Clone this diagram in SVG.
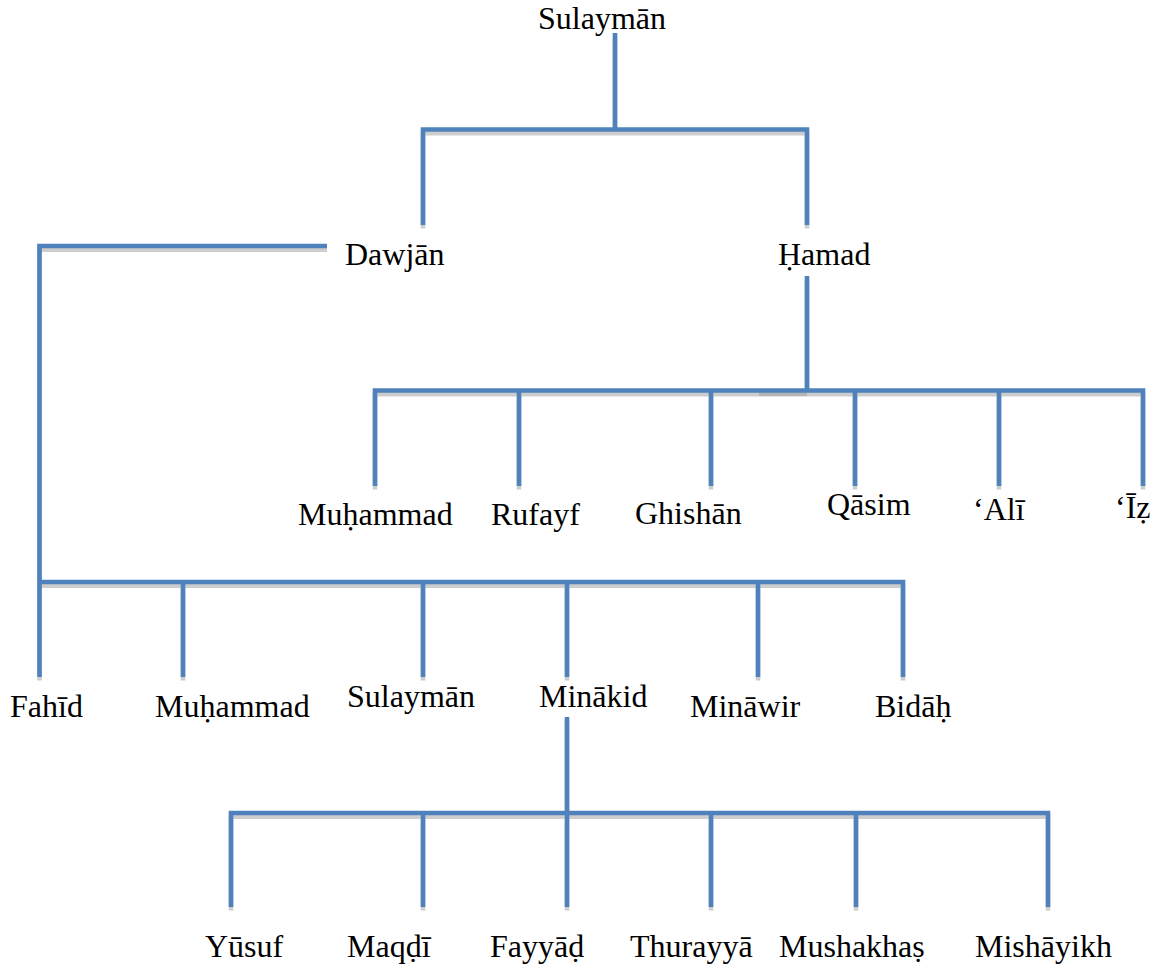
<svg xmlns="http://www.w3.org/2000/svg" xmlns:xlink="http://www.w3.org/1999/xlink" width="1157" height="967" viewBox="0 0 1157 967">
<style>
  .lbl { font-family: "Liberation Serif", "Times New Roman", serif; font-size: 32px; fill: #000; }
  .ln { fill: none; stroke: #4F81BD; stroke-width: 4.6; stroke-linejoin: miter; stroke-linecap: butt; }
  .sh { fill: none; stroke: #CDCDCD; stroke-width: 4.6; stroke-linejoin: miter; stroke-linecap: butt; }
</style>
<defs>
  <path id="c1" d="M615,33 V129.5 M423,225 V129.5 H807 V225"/>
  <path id="c2" d="M327,246 H39.5 V582 M39.5,582 H903 V677 M39.5,582 V677 M183,582 V677 M423,582 V677 M567,582 V677 M758,582 V677"/>
  <path id="c3" d="M807,276 V390.5 M375,486 V390.5 H1143 V486 M519,390.5 V486 M711,390.5 V486 M855,390.5 V486 M999,390.5 V486"/>
  <path id="c4" d="M567,717 V813 M231,907 V813 H1048 V907 M423,813 V907 M567,813 V907 M711,813 V907 M856,813 V907"/>
</defs>
<rect width="1157" height="967" fill="#fff"/>
<g id="connectors">
  <g transform="translate(0,3.6)">
    <use xlink:href="#c1" class="sh"/>
    <use xlink:href="#c2" class="sh"/>
    <use xlink:href="#c3" class="sh"/>
    <use xlink:href="#c4" class="sh"/>
  </g>
  <rect x="759" y="391" width="48" height="5" fill="#B4B4B4"/>
  <use xlink:href="#c1" class="ln"/>
  <use xlink:href="#c2" class="ln"/>
  <use xlink:href="#c3" class="ln"/>
  <use xlink:href="#c4" class="ln"/>
</g>
<g id="n-sulayman-root"><text class="lbl" x="538" y="29">Sulaymān</text></g>
<g id="n-dawjan"><text class="lbl" x="345" y="265">Dawjān</text></g>
<g id="n-hamad"><text class="lbl" x="778" y="265">Ḥamad</text></g>
<g id="n-muhammad-h"><text class="lbl" x="298" y="525">Muḥammad</text></g>
<g id="n-rufayf"><text class="lbl" x="491" y="525">Rufayf</text></g>
<g id="n-ghishan"><text class="lbl" x="635" y="524">Ghishān</text></g>
<g id="n-qasim"><text class="lbl" x="827" y="515">Qāsim</text></g>
<g id="n-ali"><text class="lbl" x="973" y="520">‘Alī</text></g>
<g id="n-iz"><text class="lbl" x="1115" y="518">‘Īẓ</text></g>
<g id="n-fahid"><text class="lbl" x="10" y="717">Fahīd</text></g>
<g id="n-muhammad-d"><text class="lbl" x="155" y="717">Muḥammad</text></g>
<g id="n-sulayman-d"><text class="lbl" x="347" y="707">Sulaymān</text></g>
<g id="n-minakid"><text class="lbl" x="539" y="707">Minākid</text></g>
<g id="n-minawir"><text class="lbl" x="690" y="717">Mināwir</text></g>
<g id="n-bidah"><text class="lbl" x="875" y="717">Bidāḥ</text></g>
<g id="n-yusuf"><text class="lbl" x="205" y="957">Yūsuf</text></g>
<g id="n-maqdi"><text class="lbl" x="347" y="957">Maqḍī</text></g>
<g id="n-fayyad"><text class="lbl" x="490" y="957">Fayyāḍ</text></g>
<g id="n-thurayya"><text class="lbl" x="630" y="957">Thurayyā</text></g>
<g id="n-mushakhas"><text class="lbl" x="779" y="957">Mushakhaṣ</text></g>
<g id="n-mishayikh"><text class="lbl" x="975" y="957">Mishāyikh</text></g>
</svg>
